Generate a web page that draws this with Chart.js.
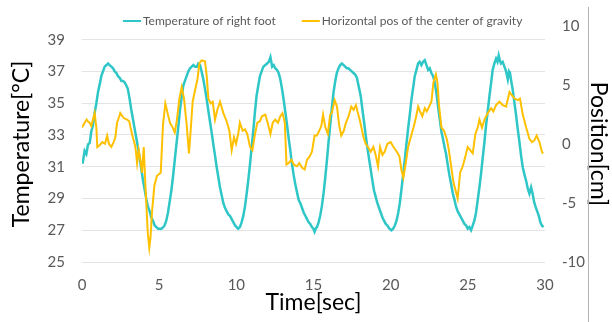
<!DOCTYPE html>
<html>
<head>
<meta charset="utf-8">
<script src="https://cdn.jsdelivr.net/npm/chart.js@4"></script>
<style>
  html, body { margin: 0; padding: 0; background: #fff; }
  canvas { display: block; }
</style>
</head>
<body>
<canvas id="chart" width="612" height="322"></canvas>
<script>
// Series labels
const seriesLabels = ['Temperature of right foot', 'Horizontal pos of the center of gravity'];

// Temperature of right foot [°C] over time [sec]
const tempTime = [
  0.0, 0.04, 0.17, 0.28, 0.39, 0.5, 0.6, 0.71, 0.82, 0.93, 1.04, 1.15, 1.25, 1.36, 1.47, 1.59, 1.69, 1.79, 1.9,
  2.01, 2.12, 2.23, 2.33, 2.44, 2.55, 2.66, 2.77, 2.88, 2.97, 3.08, 3.19, 3.3, 3.41, 3.52, 3.63, 3.74, 3.85, 3.96,
  4.07, 4.16, 4.27, 4.38, 4.49, 4.6, 4.71, 4.82, 4.93, 5.04, 5.15, 5.26, 5.35, 5.46, 5.57, 5.68, 5.79, 5.9,
  6.03, 6.14, 6.25, 6.35, 6.46, 6.56, 6.67, 6.78, 6.89, 7.0, 7.11, 7.22, 7.33, 7.44, 7.54, 7.65, 7.75, 7.86, 7.97,
  8.08, 8.19, 8.3, 8.41, 8.51, 8.62, 8.73, 8.84, 8.94, 9.05, 9.16, 9.27, 9.37, 9.48, 9.59, 9.7, 9.81, 9.92,
  10.02, 10.12, 10.23, 10.34, 10.45, 10.56, 10.67, 10.78, 10.89, 11.0, 11.11, 11.21, 11.31, 11.42, 11.53, 11.64, 11.75, 11.88, 11.99,
  12.1, 12.21, 12.32, 12.42, 12.52, 12.63, 12.74, 12.85, 12.96, 13.07, 13.18, 13.29, 13.39, 13.5, 13.6, 13.71, 13.82, 13.93,
  14.04, 14.15, 14.26, 14.37, 14.48, 14.58, 14.69, 14.79, 14.9, 14.99, 15.07, 15.15, 15.22, 15.33, 15.43, 15.54, 15.65, 15.76, 15.87, 15.97,
  16.08, 16.19, 16.3, 16.41, 16.51, 16.62, 16.73, 16.84, 16.95, 17.06, 17.15, 17.26, 17.37, 17.48, 17.59, 17.7, 17.81, 17.92,
  18.06, 18.17, 18.28, 18.38, 18.49, 18.6, 18.71, 18.82, 18.92, 19.03, 19.14, 19.25, 19.36, 19.47, 19.57, 19.68, 19.79, 19.92,
  20.05, 20.16, 20.27, 20.38, 20.49, 20.59, 20.69, 20.8, 20.91, 21.02, 21.13, 21.24, 21.35, 21.46, 21.56, 21.67, 21.78, 21.88, 21.99,
  22.1, 22.21, 22.32, 22.43, 22.53, 22.64, 22.75, 22.86, 22.97, 23.07, 23.18, 23.29, 23.4, 23.5, 23.59, 23.7, 23.8, 23.92,
  24.03, 24.14, 24.23, 24.34, 24.45, 24.56, 24.67, 24.78, 24.89, 24.99, 25.1, 25.21, 25.32, 25.42, 25.53, 25.64, 25.75, 25.86, 25.97,
  26.08, 26.18, 26.29, 26.4, 26.51, 26.61, 26.72, 26.83, 26.92, 27.0, 27.07, 27.15, 27.26, 27.37, 27.48, 27.59, 27.67, 27.73, 27.81, 27.9,
  28.01, 28.12, 28.23, 28.34, 28.45, 28.56, 28.67, 28.78, 28.89, 28.99, 29.1, 29.2, 29.29, 29.38, 29.49, 29.6, 29.7, 29.8, 29.9
];
const tempValues = [
  31.4, 31.2, 32.0, 31.8, 32.4, 32.5, 33.2, 33.6, 34.4, 35.0, 35.7, 36.2, 36.7, 37.0, 37.3, 37.4, 37.5, 37.4, 37.3,
  37.2, 37.0, 36.9, 36.7, 36.6, 36.4, 36.4, 36.3, 36.1, 35.9, 35.3, 34.6, 34.0, 33.4, 32.8, 32.2, 31.5, 30.8, 30.1,
  29.5, 29.0, 28.5, 28.2, 27.8, 27.6, 27.3, 27.2, 27.1, 27.1, 27.1, 27.2, 27.3, 27.6, 28.1, 28.8, 29.5, 30.4,
  31.6, 32.6, 33.6, 34.6, 35.4, 36.1, 36.4, 36.7, 37.0, 37.2, 37.3, 37.4, 37.3, 37.3, 37.5, 37.4, 37.0, 36.5, 35.9,
  35.25, 34.5, 33.8, 33.1, 32.4, 31.7, 30.95, 30.3, 29.7, 29.2, 28.7, 28.4, 28.2, 28.0, 27.9, 27.7, 27.5, 27.3,
  27.2, 27.1, 27.2, 27.5, 27.9, 28.5, 29.3, 30.2, 31.2, 32.3, 33.4, 34.5, 35.45, 36.1, 36.7, 37.0, 37.3, 37.4, 37.5,
  37.6, 37.9, 37.3, 37.4, 37.2, 37.1, 36.9, 36.5, 35.9, 35.2, 34.4, 33.6, 32.8, 32.0, 31.2, 30.5, 29.9, 29.4,
  28.9, 28.7, 28.4, 28.1, 27.9, 27.7, 27.5, 27.4, 27.2, 27.1, 26.9, 27.1, 27.2, 27.5, 27.9, 28.5, 29.3, 30.3, 31.4, 32.5,
  33.6, 34.7, 35.7, 36.4, 36.9, 37.2, 37.4, 37.5, 37.4, 37.3, 37.2, 37.2, 37.1, 37.0, 36.9, 36.8, 36.6, 36.1,
  35.45, 34.6, 33.8, 33.0, 32.2, 31.5, 30.8, 30.1, 29.5, 29.1, 28.7, 28.4, 28.1, 27.8, 27.6, 27.4, 27.3, 27.1,
  27.0, 27.1, 27.3, 27.6, 28.1, 28.7, 29.5, 30.4, 31.4, 32.4, 33.4, 34.3, 35.25, 36.0, 36.7, 37.1, 37.5, 37.6, 37.4,
  37.6, 37.7, 37.4, 37.1, 37.2, 36.9, 36.7, 36.3, 35.6, 34.8, 34.0, 33.2, 32.7, 32.2, 31.8, 31.1, 30.5, 29.9,
  29.3, 28.9, 28.5, 28.2, 28.0, 27.8, 27.6, 27.4, 27.3, 27.1, 27.2, 27.0, 27.3, 27.6, 28.1, 28.9, 29.7, 30.6, 31.6,
  32.6, 33.6, 34.5, 35.45, 36.3, 37.1, 37.5, 37.8, 37.6, 38.0, 37.7, 37.5, 37.6, 37.3, 37.0, 36.5, 37.0, 36.9, 36.4, 35.9,
  35.1, 34.3, 33.4, 32.6, 31.7, 30.95, 30.5, 30.1, 29.6, 29.3, 29.7, 29.3, 28.8, 28.5, 28.2, 27.9, 27.5, 27.3, 27.2
];

// Horizontal position of the center of gravity [cm] over time [sec]
const posTime = [
  0.0, 0.17, 0.3, 0.39, 0.5, 0.6, 0.71, 0.82, 0.93, 0.99, 1.14, 1.32, 1.49, 1.63, 1.74, 1.9,
  2.05, 2.16, 2.27, 2.38, 2.48, 2.7, 2.92, 3.06, 3.24, 3.46, 3.57, 3.67, 3.78, 3.89, 4.0,
  4.11, 4.26, 4.36, 4.44, 4.54, 4.69, 4.86, 5.1, 5.25, 5.4, 5.57, 5.7, 5.88,
  6.01, 6.14, 6.31, 6.46, 6.61, 6.78, 6.93, 7.04, 7.17, 7.32, 7.48, 7.61, 7.75, 7.97,
  8.08, 8.19, 8.34, 8.47, 8.62, 8.77, 8.94, 9.16, 9.37, 9.55, 9.7, 9.85, 9.98,
  10.12, 10.23, 10.41, 10.56, 10.71, 10.89, 11.04, 11.21, 11.36, 11.53, 11.66, 11.88,
  12.06, 12.21, 12.36, 12.52, 12.7, 12.85, 12.99, 13.14, 13.25, 13.39, 13.57, 13.73, 13.93,
  14.08, 14.26, 14.43, 14.58, 14.74, 14.9, 15.07, 15.22, 15.37, 15.51, 15.62, 15.77, 15.93,
  16.08, 16.19, 16.37, 16.52, 16.67, 16.8, 16.96, 17.1, 17.27, 17.45, 17.6, 17.75, 17.85,
  18.02, 18.24, 18.38, 18.53, 18.71, 18.88, 19.03, 19.18, 19.31, 19.47, 19.61, 19.79,
  20.0, 20.18, 20.4, 20.57, 20.69, 20.82, 20.98, 21.13, 21.3, 21.48, 21.63, 21.78, 21.9,
  22.05, 22.21, 22.34, 22.49, 22.64, 22.77, 22.93, 23.03, 23.13, 23.29, 23.46, 23.64, 23.77, 23.92,
  24.07, 24.23, 24.34, 24.5, 24.67, 24.84, 24.99, 25.15, 25.32, 25.49, 25.64, 25.75, 25.92,
  26.08, 26.29, 26.51, 26.65, 26.83, 27.04, 27.26, 27.48, 27.7, 27.86,
  28.03, 28.23, 28.38, 28.56, 28.78, 28.99, 29.16, 29.31, 29.46, 29.64, 29.8, 29.88
];
const posValues = [
  1.4, 1.8, 2.07, 1.9, 1.8, 1.53, 2.07, 2.62, 1.39, -0.25, -0.1, 0.16, 0.02, 0.71, 0.02, -0.25,
  0.16, 0.57, 1.8, 2.2, 2.62, 2.2, 2.07, 1.93, 0.85, -0.25, -1.61, -0.52, -1.34, -2.43, -0.25,
  -3.52, -7.5, -8.8, -7.9, -5.7, -3.52, -2.7, -2.43, 1.66, 3.44, 2.49, 1.8, 1.39,
  0.98, 1.93, 3.85, 4.81, 3.85, 1.66, -0.79, 1.12, 3.58, 4.53, 5.49, 6.86, 7.08, 7.0,
  5.77, 3.85, 3.44, 3.58, 2.07, 2.9, 3.58, 2.62, 1.93, 1.12, -0.52, 0.57, 0.02,
  0.85, 1.8, 1.12, 1.25, 0.85, -0.25, -0.52, 0.85, 1.8, 1.93, 2.35, 2.49,
  1.66, 0.85, 1.8, 2.07, 1.8, 2.35, 2.62, 1.8, -1.75, -1.61, -1.34, -1.75, -1.89,
  -1.61, -2.02, -2.16, -1.34, -1.07, -0.66, 0.71, 0.71, 1.12, 1.53, 2.49, 1.39, 0.85,
  2.49, 2.62, 3.72, 3.17, 1.53, 0.71, 1.12, 1.8, 2.35, 3.17, 2.9, 3.3, 2.76,
  1.93, 0.57, 0.02, -0.25, -0.66, -0.25, -0.93, -1.89, -0.25, -0.93, -0.66, 0.02,
  0.16, -0.25, -0.66, -1.07, -2.16, -2.84, -1.61, -0.25, 0.57, 1.39, 2.2, 3.17, 2.76,
  2.35, 3.03, 2.76, 3.17, 3.58, 5.22, 5.9, 5.22, 3.3, 1.39, 1.12, 0.4, -0.5, -1.89,
  -3.25, -4.07, -4.62, -2.43, -1.89, -1.07, -0.25, -0.52, -0.79, 0.85, 1.39, 2.07, 1.39,
  2.07, 2.62, 3.03, 2.76, 3.3, 3.58, 3.3, 3.17, 4.4, 4.13,
  3.85, 3.72, 3.85, 2.49, 1.39, 0.44, 0.16, 0.3, 0.71, 0.16, -0.66, -0.8
];

// Axis ticks
const timeTicks = [0, 5, 10, 15, 20, 25, 30];
const tempTicks = [25, 27, 29, 31, 33, 35, 37, 39];
const posTicks = [-10, -5, 0, 5, 10];

const tempData = tempTime.map((t, i) => ({ x: t, y: tempValues[i] }));
const posData = posTime.map((t, i) => ({ x: t, y: posValues[i] }));

// Legend line markers + the thin frame line at the right edge
const legendAndFrame = {
  id: 'legendAndFrame',
  afterDraw(chart) {
    const ctx = chart.ctx;
    ctx.save();
    ctx.strokeStyle = '#b4b4b4';
    ctx.lineWidth = 1;
    ctx.beginPath();
    ctx.moveTo(588.5, 7);
    ctx.lineTo(588.5, chart.height);
    ctx.stroke();

    ctx.font = '12px Lato';
    ctx.textBaseline = 'middle';
    let x = 123;
    chart.data.datasets.forEach(ds => {
      ctx.strokeStyle = ds.borderColor;
      ctx.lineWidth = 2;
      ctx.beginPath();
      ctx.moveTo(x, 21);
      ctx.lineTo(x + 18, 21);
      ctx.stroke();
      ctx.fillStyle = '#595959';
      ctx.fillText(ds.label, x + 20, 21);
      x += 20 + ctx.measureText(ds.label).width + 26;
    });
    ctx.restore();
  }
};

Chart.defaults.font.family = 'Lato';

const tickFont = { size: 15 };
const titleFont = { size: 23 };

new Chart(document.getElementById('chart').getContext('2d'), {
  type: 'line',
  data: {
    datasets: [{
      label: seriesLabels[0],
      data: tempData,
      borderColor: '#2ec6c6',
      borderWidth: 2.5,
      yAxisID: 'y',
      order: 1
    }, {
      label: seriesLabels[1],
      data: posData,
      borderColor: '#ffc000',
      borderWidth: 2,
      yAxisID: 'y2',
      order: 0
    }]
  },
  options: {
    responsive: false,
    animation: false,
    devicePixelRatio: 1,
    layout: { padding: { top: 20, left: 0, right: 0, bottom: 0 } },
    elements: {
      point: { radius: 0 },
      line: { tension: 0 }
    },
    plugins: {
      legend: { display: false },
      tooltip: { enabled: false }
    },
    scales: {
      x: {
        type: 'linear',
        min: 0,
        max: 30,
        grid: { display: false },
        border: { display: false },
        ticks: { color: '#595959', font: tickFont, padding: 6, maxRotation: 0, autoSkip: false },
        afterBuildTicks: axis => { axis.ticks = timeTicks.map(v => ({ value: v })); },
        afterFit: axis => { axis.height = 60; },
        title: { display: true, text: 'Time[sec]', color: '#000', font: titleFont, padding: { top: 0, bottom: 6 } }
      },
      y: {
        position: 'left',
        min: 25,
        max: 39.86,
        grid: { color: '#e4e4e4', drawTicks: false },
        border: { display: false },
        ticks: { color: '#595959', font: tickFont, padding: 17, autoSkip: false },
        afterBuildTicks: axis => { axis.ticks = tempTicks.map(v => ({ value: v })); },
        afterFit: axis => { axis.width = 82; },
        title: { display: true, text: 'Temperature[°C]', color: '#000', font: titleFont, padding: { top: 8, bottom: 0 } }
      },
      y2: {
        position: 'right',
        min: -10,
        max: 10,
        grid: { display: false, drawTicks: false },
        border: { display: false },
        ticks: { color: '#595959', font: tickFont, padding: 17, autoSkip: false },
        afterBuildTicks: axis => { axis.ticks = posTicks.map(v => ({ value: v })); },
        afterFit: axis => { axis.width = 67; },
        title: { display: true, text: 'Position[cm]', color: '#000', font: titleFont, padding: { top: 0, bottom: 0 } }
      }
    }
  },
  plugins: [legendAndFrame]
});
</script>
</body>
</html>
